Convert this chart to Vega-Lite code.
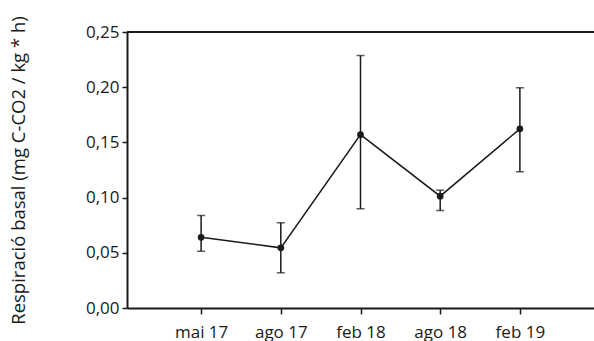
{
  "$schema": "https://vega.github.io/schema/vega-lite/v6.json",
  "width": 467,
  "height": 276,
  "autosize": {"type": "none"},
  "padding": {"left": 127, "top": 32, "right": 0, "bottom": 33},
  "background": "white",
  "config": {
    "view": {"stroke": null},
    "font": "Open Sans",
    "axis": {"grid": false, "domainColor": "#1a1a1a", "tickColor": "#1a1a1a", "labelColor": "#1a1a1a", "titleColor": "#1a1a1a", "labelFontSize": 17, "titleFontSize": 18.5, "titleFontWeight": "normal", "domainWidth": 2, "tickWidth": 1.5, "tickSize": 5}
  },
  "data": {
    "values": [
      {"data": "mai 17", "valor": 0.064, "min": 0.0514, "max": 0.0838},
      {"data": "ago 17", "valor": 0.0545, "min": 0.0319, "max": 0.0772},
      {"data": "feb 18", "valor": 0.157, "min": 0.0899, "max": 0.2287},
      {"data": "ago 18", "valor": 0.1013, "min": 0.0883, "max": 0.1067},
      {"data": "feb 19", "valor": 0.1623, "min": 0.1234, "max": 0.1995}
    ]
  },
  "layer": [
    {
      "mark": {"type": "rule", "color": "#1a1a1a", "strokeWidth": 1.5},
      "encoding": {
        "x": {
          "field": "data", "type": "ordinal", "sort": null,
          "scale": {"type": "point", "padding": 0.93},
          "axis": {"title": null, "labelAngle": 0, "labelPadding": 10, "tickSize": 6}
        },
        "y": {
          "field": "min", "type": "quantitative",
          "scale": {"domain": [0, 0.25], "nice": false},
          "axis": {
            "title": "Respiració basal (mg C-CO2 / kg * h)",
            "values": [0, 0.05, 0.1, 0.15, 0.2, 0.25],
            "labelExpr": "replace(format(datum.value, '.2f'), '.', ',')",
            "labelPadding": 3,
            "titlePadding": 57
          }
        },
        "y2": {"field": "max"}
      }
    },
    {
      "mark": {"type": "tick", "orient": "horizontal", "color": "#1a1a1a", "size": 8, "thickness": 1.5},
      "encoding": {
        "x": {"field": "data", "type": "ordinal", "sort": null},
        "y": {"field": "min", "type": "quantitative"}
      }
    },
    {
      "mark": {"type": "tick", "orient": "horizontal", "color": "#1a1a1a", "size": 8, "thickness": 1.5},
      "encoding": {
        "x": {"field": "data", "type": "ordinal", "sort": null},
        "y": {"field": "max", "type": "quantitative"}
      }
    },
    {
      "mark": {"type": "line", "color": "#1a1a1a", "strokeWidth": 1.5},
      "encoding": {
        "x": {"field": "data", "type": "ordinal", "sort": null},
        "y": {"field": "valor", "type": "quantitative"}
      }
    },
    {
      "mark": {"type": "point", "filled": true, "color": "#1a1a1a", "size": 45, "opacity": 1},
      "encoding": {
        "x": {"field": "data", "type": "ordinal", "sort": null},
        "y": {"field": "valor", "type": "quantitative"}
      }
    },
    {
      "mark": {"type": "rule", "color": "#1a1a1a", "strokeWidth": 2},
      "encoding": {"y": {"datum": 0.25, "type": "quantitative"}}
    }
  ]
}
